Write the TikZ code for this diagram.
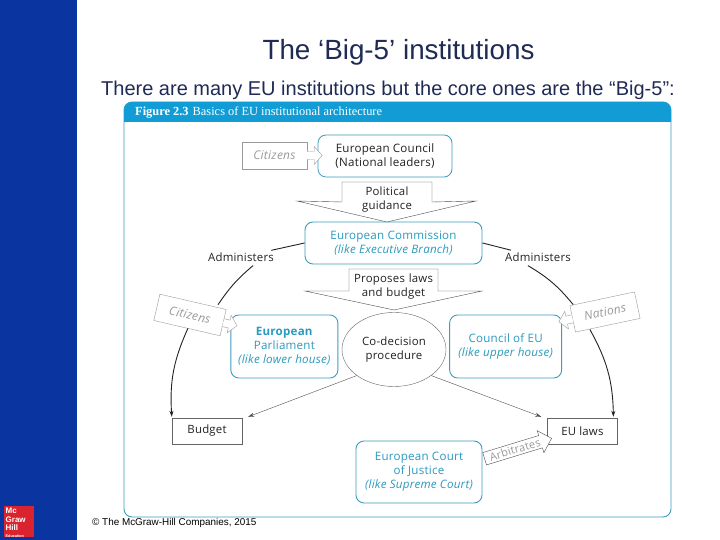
\documentclass[tikz,border=0pt]{standalone}
\usepackage{fontspec}
\setmainfont{Liberation Sans}
\newfontfamily\diagfont[LetterSpace=2]{Open Sans}
\newfontfamily\headfont{Liberation Serif}
\usetikzlibrary{shapes.geometric,shapes.arrows,arrows.meta,positioning,calc}
\definecolor{mhbleu}{HTML}{0A35A0}
\definecolor{mhrouge}{HTML}{D9232E}
\definecolor{figcyan}{HTML}{129CD6}
\definecolor{figbord}{HTML}{3C9DBD}
\definecolor{figtext}{HTML}{2A9ABF}
\definecolor{figgris}{HTML}{9A9A9A}
\definecolor{figdark}{HTML}{222222}
\definecolor{titleink}{HTML}{1F2A55}
\begin{document}
\begin{tikzpicture}[x=1pt,y=1pt,
  inst/.style={rectangle,rounded corners=8pt,draw=figbord,line width=0.9pt,fill=white,
    align=center,font=\diagfont\fontsize{11.6}{14}\selectfont,text=figtext},
  lead/.style={inst,text=figdark,line width=0.8pt},
  result/.style={rectangle,draw=figdark!70,thin,fill=white,minimum width=70pt,minimum height=26pt,
    font=\diagfont\fontsize{11.4}{13}\selectfont,text=figdark},
  voter/.style={rectangle,draw=figgris,thin,fill=white,minimum width=66pt,minimum height=27pt,
    font=\diagfont\itshape\fontsize{12}{13}\selectfont,text=figgris},
  txt/.style={align=center,inner sep=1pt,font=\diagfont\fontsize{11.4}{14}\selectfont,text=figdark},
  guide/.style={draw=figdark!80,thin,fill=white},
  blk/.style={draw=figgris,thin,fill=white},
  sig/.style={-{Stealth[length=6pt,width=4pt]},line width=0.9pt,figdark},
  dec/.style={-{Stealth[length=6pt,width=4pt]},thin,figdark!80}]
  \useasboundingbox (0,0) rectangle (720,540);
  % bandeau et logo
  \fill[mhbleu] (0,0) rectangle (77,540);
  \node[fill=mhrouge,minimum width=30pt,minimum height=31pt,inner sep=0pt] (logo) at (19,18.5) {};
  \node[anchor=north west,inner sep=0pt,align=left,text=white,font=\bfseries\fontsize{8}{8.5}\selectfont] (logotxt)
    at (5.5,32) {Mc\\Graw\\Hill\\[-1.5pt]{\fontsize{3.8}{4}\selectfont Education}};
  \node[font=\fontsize{27.8}{30}\selectfont,text=titleink] (title) at (398.5,488) {The ‘Big-5’ institutions};
  \node[font=\fontsize{20}{24}\selectfont,text=titleink] (subtitle) at (388,450) {There are many EU institutions but the core ones are the “Big-5”:};
  \node[anchor=west,inner sep=0pt,font=\fontsize{9.9}{12}\selectfont] (copy) at (92,17) {© The McGraw-Hill Companies, 2015};
  % cadre de la figure
  \draw[figbord,line width=0.9pt,fill=white,rounded corners=8pt] (124,23) rectangle (671,438);
  \fill[figcyan] (124,418) [rounded corners=8pt] -- (124,438) -- (671,438) [sharp corners] -- (671,418) -- cycle;
  \node[anchor=west,inner sep=0pt,text=white,font=\headfont\fontsize{12.4}{14}\selectfont] (figtitle)
    at (135,427) {\textbf{Figure 2.3}\hspace{4pt}Basics of EU institutional architecture};
  % institutions
  \node[lead,minimum width=134pt,minimum height=42pt] (council) at (385,384) {European Council\\(National leaders)};
  \node[inst,minimum width=177pt,minimum height=42pt] (comm) at (393.5,297) {European Commission\\{\itshape(like Executive Branch)}};
  \node[ellipse,draw=figdark!70,thin,minimum width=104pt,minimum height=74pt,inner sep=0pt,txt] (codec) at (394,190.5) {Co-decision\\procedure};
  \node[inst,minimum width=107pt,minimum height=63pt,inner sep=1pt,left=3.5pt of codec,yshift=3pt] (parl) {\textbf{European}\\Parliament\\{\itshape(like lower house)}};
  \node[inst,minimum width=112pt,minimum height=63pt,inner sep=1pt,right=3pt of codec,yshift=3pt] (cons) {Council of EU\\{\itshape(like upper house)}};
  \node[result] (budget) at (207,109) {Budget};
  \node[result,right=305pt of budget] (laws) {EU laws};
  \node[inst,minimum width=126pt,minimum height=62pt,inner sep=1pt] (court) at (419,68) {European Court\\of Justice\\{\itshape(like Supreme Court)}};
  \node[txt] (admL) at (241,283) {Administers};
  \node[txt] (admR) at (538,283) {Administers};
  % citoyens et nations
  \node[voter,minimum width=65pt] (citcouncil) at (274.5,384.5) {Citizens};
  \node[voter,rotate=-13,minimum width=68pt] (citparl) at (190,225) {Citizens};
  \node[voter,rotate=12] (nations) at (605,228) {Nations};
  \draw[blk] (citcouncil.east) ++(0,4) -- ++(7,0) -- ++(0,5) -- ++(8,-9) -- ++(-8,-9) -- ++(0,5) -- ++(-7,0);
  \draw[blk,rotate=-13] (citparl.east) ++(0,4) -- ++(6,0) -- ++(0,5) -- ++(8,-9) -- ++(-8,-9) -- ++(0,5) -- ++(-6,0);
  \draw[blk,rotate=12] (nations.west) ++(0,4) -- ++(-6,0) -- ++(0,5) -- ++(-8,-9) -- ++(8,-9) -- ++(0,5) -- ++(6,0);
  % bulles entre les blocs
  \draw[guide] (342,358) -- (432,358) -- (432,338) -- (476,339) -- (387,318) -- (297,339) -- (342,338) -- cycle;
  \node[txt,text width=88pt] (polguid) at (387,340) {Political\\guidance};
  \draw[guide] (349,271) -- (438,271) -- (438,249) -- (482,249) -- (394,230) -- (305,249) -- (349,249) -- cycle;
  \node[txt,text width=88pt] (propose) at (393.5,253) {Proposes laws\\and budget};
  % liaisons
  \draw[line width=0.9pt,figdark,shorten >=5pt] (comm.west) -- (admL);
  \draw[line width=0.9pt,figdark,shorten >=5pt] (comm.east) -- (admR);
  \draw[line width=0.9pt,figdark] (admL.south east) ++(-22,-3) to[bend right=8] ($(citparl.north)+(25,-3)$);
  \draw[line width=0.9pt,figdark] (admR.south west) ++(24,-3) to[bend left=10] ($(nations.north)+(-29,-6)$);
  \draw[sig] ($(citparl.south)+(1,0)$) to[bend right=14] ($(budget.north west)+(0,1)$);
  \draw[sig] ($(nations.south)+(-18,-4)$) to[bend left=14] ($(laws.north)+(31,1)$);
  \draw[dec] (codec.215) -- ($(budget.north east)+(6,1)$);
  \draw[dec] (codec.-35) -- ($(laws.north west)+(-6,1)$);
  \node[single arrow,draw=figdark!80,thin,fill=white,rotate=17,inner sep=0pt,minimum height=70pt,minimum width=23pt,
    single arrow head extend=3.5pt,single arrow head indent=0pt,text=figgris,font=\diagfont\fontsize{11}{12}\selectfont] (arbitre) at (515,90.5) {Arbitrates};
\end{tikzpicture}
\end{document}
